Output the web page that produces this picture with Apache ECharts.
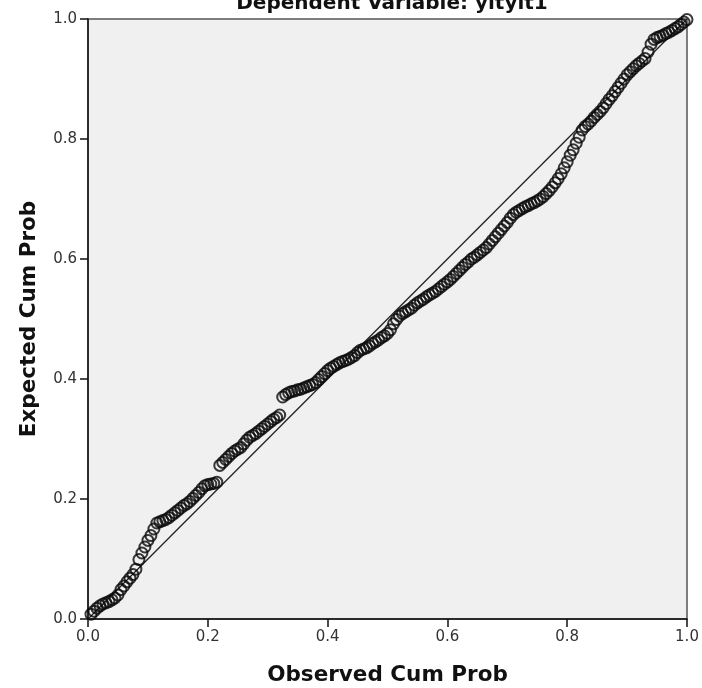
<!DOCTYPE html>
<html>
<head>
<meta charset="utf-8">
<script src="https://cdn.jsdelivr.net/npm/echarts@6/dist/echarts.min.js"></script>
<style>
html,body{margin:0;padding:0;background:#fff;}
#chart{width:702px;height:688px;}
</style>
</head>
<body>
<div id="chart"></div>
<script>
var titleText = "Dependent Variable: yityit1";
var xAxisTitle = "Observed Cum Prob";
var yAxisTitle = "Expected Cum Prob";
var tickLabels = ["0.0","0.2","0.4","0.6","0.8","1.0"];

var observed = [
0.005,0.010,0.015,0.020,0.025,0.030,0.035,0.040,0.045,0.050,
0.055,0.060,0.065,0.070,0.075,0.080,0.085,0.090,0.095,0.100,
0.105,0.110,0.115,0.120,0.125,0.130,0.135,0.140,0.145,0.150,
0.155,0.160,0.165,0.170,0.175,0.180,0.185,0.190,0.195,0.200,
0.205,0.210,0.215,0.220,0.225,0.230,0.235,0.240,0.245,0.250,
0.255,0.260,0.265,0.270,0.275,0.280,0.285,0.290,0.295,0.300,
0.305,0.310,0.315,0.320,0.325,0.330,0.335,0.340,0.345,0.350,
0.355,0.360,0.365,0.370,0.375,0.380,0.385,0.390,0.395,0.400,
0.405,0.410,0.415,0.420,0.425,0.430,0.435,0.440,0.445,0.450,
0.455,0.460,0.465,0.470,0.475,0.480,0.485,0.490,0.495,0.500,
0.505,0.510,0.515,0.520,0.525,0.530,0.535,0.540,0.545,0.550,
0.555,0.560,0.565,0.570,0.575,0.580,0.585,0.590,0.595,0.600,
0.605,0.610,0.615,0.620,0.625,0.630,0.635,0.640,0.645,0.650,
0.655,0.660,0.665,0.670,0.675,0.680,0.685,0.690,0.695,0.700,
0.705,0.710,0.715,0.720,0.725,0.730,0.735,0.740,0.745,0.750,
0.755,0.760,0.765,0.770,0.775,0.780,0.785,0.790,0.795,0.800,
0.805,0.810,0.815,0.820,0.825,0.830,0.835,0.840,0.845,0.850,
0.855,0.860,0.865,0.870,0.875,0.880,0.885,0.890,0.895,0.900,
0.905,0.910,0.915,0.920,0.925,0.930,0.935,0.940,0.945,0.950,
0.955,0.960,0.965,0.970,0.975,0.980,0.985,0.990,0.995,1.000
];

var expected = [
0.008,0.013,0.018,0.022,0.025,0.027,0.029,0.032,0.035,0.040,
0.049,0.055,0.062,0.068,0.074,0.083,0.099,0.110,0.120,0.131,
0.139,0.150,0.160,0.162,0.164,0.166,0.169,0.173,0.177,0.181,
0.185,0.189,0.192,0.196,0.201,0.206,0.211,0.217,0.222,0.224,
0.225,0.226,0.228,0.256,0.261,0.266,0.271,0.276,0.280,0.283,
0.286,0.292,0.298,0.303,0.306,0.309,0.313,0.317,0.321,0.325,
0.329,0.333,0.336,0.340,0.370,0.374,0.377,0.379,0.380,0.382,
0.383,0.385,0.387,0.389,0.391,0.394,0.399,0.404,0.409,0.414,
0.418,0.421,0.424,0.427,0.429,0.431,0.433,0.436,0.439,0.444,
0.448,0.450,0.452,0.455,0.459,0.462,0.465,0.469,0.472,0.476,
0.482,0.492,0.499,0.505,0.509,0.512,0.515,0.518,0.523,0.527,
0.530,0.533,0.537,0.540,0.543,0.546,0.550,0.554,0.558,0.562,
0.566,0.571,0.576,0.581,0.586,0.591,0.595,0.600,0.603,0.607,
0.611,0.615,0.619,0.625,0.631,0.637,0.643,0.649,0.655,0.661,
0.668,0.674,0.678,0.681,0.684,0.687,0.689,0.692,0.694,0.697,
0.700,0.704,0.709,0.714,0.720,0.727,0.734,0.742,0.752,0.762,
0.773,0.782,0.793,0.803,0.815,0.821,0.825,0.830,0.836,0.841,
0.846,0.852,0.859,0.866,0.872,0.879,0.886,0.893,0.900,0.907,
0.912,0.917,0.922,0.926,0.930,0.934,0.945,0.958,0.966,0.969,
0.971,0.973,0.976,0.978,0.981,0.984,0.987,0.991,0.995,0.999
];

var refLineX = [0, 1];
var refLineY = [0, 1];

var points = observed.map(function (v, i) { return [v, expected[i]]; });
var refLine = refLineX.map(function (v, i) { return [v, refLineY[i]]; });

var chart = echarts.init(document.getElementById('chart'), null, {renderer: 'canvas'});
var labelFont = 'DejaVu Sans';
chart.setOption({
  animation: false,
  backgroundColor: '#ffffff',
  title: {
    text: titleText,
    left: 387,
    textAlign: 'center',
    top: -11,
    textStyle: {fontFamily: labelFont, fontWeight: 'bold', fontSize: 20, color: '#111'}
  },
  grid: {
    left: 88, right: 15, top: 19, bottom: 69,
    outerBoundsMode: 'none',
    containLabel: false,
    show: true,
    backgroundColor: '#f0f0f0',
    borderColor: '#555',
    borderWidth: 1.5
  },
  xAxis: {
    type: 'value',
    min: 0, max: 1, interval: 0.2,
    name: xAxisTitle,
    nameLocation: 'middle',
    nameGap: 45,
    nameTextStyle: {fontFamily: labelFont, fontWeight: 'bold', fontSize: 21.5, color: '#111'},
    axisLine: {show: true, lineStyle: {color: '#111', width: 1.5}},
    axisTick: {show: true, length: 8, lineStyle: {color: '#111', width: 1.5}},
    axisLabel: {
      margin: 11, fontFamily: labelFont, fontSize: 15, color: '#333',
      formatter: function (v) { return tickLabels[Math.round(v * 5)]; }
    },
    splitLine: {show: false}
  },
  yAxis: {
    type: 'value',
    min: 0, max: 1, interval: 0.2,
    name: yAxisTitle,
    nameLocation: 'middle',
    nameGap: 48,
    nameRotate: 90,
    nameTextStyle: {fontFamily: labelFont, fontWeight: 'bold', fontSize: 21.5, color: '#111'},
    axisLine: {show: true, lineStyle: {color: '#111', width: 1.5}},
    axisTick: {show: true, length: 8, lineStyle: {color: '#111', width: 1.5}},
    axisLabel: {
      margin: 11, fontFamily: labelFont, fontSize: 15, color: '#333',
      formatter: function (v) { return tickLabels[Math.round(v * 5)]; }
    },
    splitLine: {show: false}
  },
  series: [
    {
      type: 'line',
      data: refLine,
      showSymbol: false,
      symbol: 'none',
      silent: true,
      lineStyle: {color: '#222', width: 1.3},
      z: 2
    },
    {
      type: 'scatter',
      data: points,
      symbol: 'circle',
      symbolSize: 11,
      itemStyle: {color: 'rgba(0,0,0,0)', borderColor: '#0a0a0a', borderWidth: 2},
      z: 3
    }
  ]
});
</script>
</body>
</html>
